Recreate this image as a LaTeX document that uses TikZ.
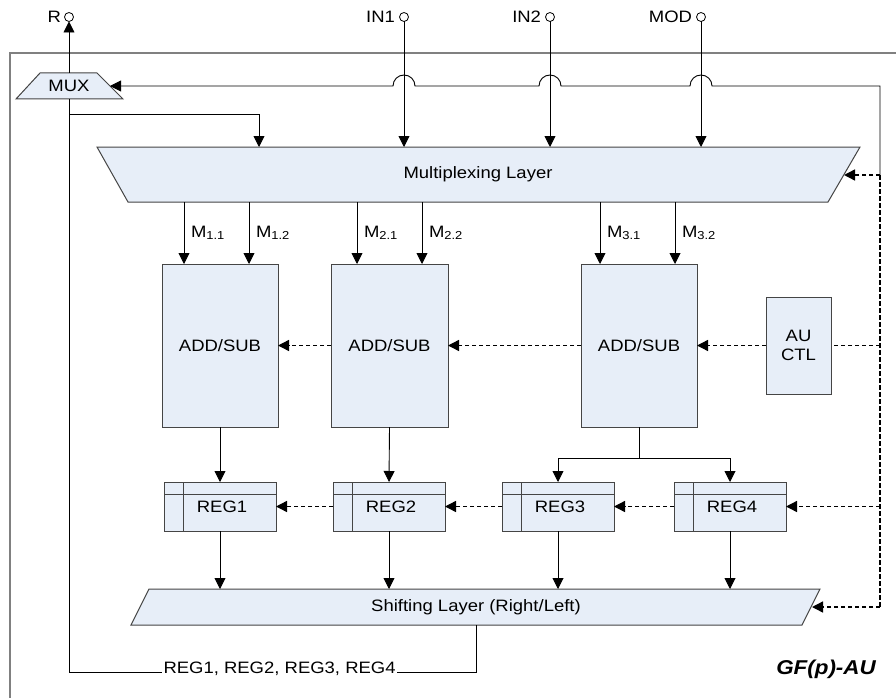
\documentclass[tikz,border=0pt]{standalone}
\usepackage{fontspec}
\setmainfont[FakeStretch=1.12]{Liberation Sans}
\usetikzlibrary{arrows.meta}
\definecolor{boxfill}{HTML}{E7EEF8}
\definecolor{boxline}{HTML}{454545}
\definecolor{framegray}{HTML}{808080}
\begin{document}
\begin{tikzpicture}[x=1pt,y=-1pt,
  font=\fontsize{16.5}{19}\selectfont,
  arr/.style={-{Triangle[length=11pt,width=11pt]}, line width=0.9pt, black},
  dsh/.style={dash pattern=on 4.5pt off 2.5pt, line width=1.4pt},
  blk/.style={draw=boxline, fill=boxfill, line width=1pt},
  hold/.style={rectangle, inner sep=0pt, outer sep=0pt},
  box/.style={rectangle, draw=boxline, fill=boxfill, line width=1pt, inner sep=0pt, outer sep=0pt, align=center},
  term/.style={circle, draw=black, line width=0.8pt, inner sep=0pt, minimum size=9pt, fill=white, outer sep=0pt},
  lbl/.style={inner sep=0pt, outer sep=0pt},
]
\useasboundingbox (0,0) rectangle (896,698);
\fill[white] (0,0) rectangle (896,698);

% outer frame
\draw[framegray, line width=1.4pt] (10,698) -- (10,53) -- (896,53);

% terminals
\node[term] (R) at (69,17) {};
\node[lbl, anchor=east] (Rt) at (61,17) {R};
\node[term] (IN1) at (404,17) {};
\node[lbl, anchor=east] (IN1t) at (395,17) {IN1};
\node[term] (IN2) at (550,17) {};
\node[lbl, anchor=east] (IN2t) at (541,17) {IN2};
\node[term] (MOD) at (701,17) {};
\node[lbl, anchor=east] (MODt) at (692,17) {MOD};

% MUX
\draw[blk] (40,73) -- (97,73) -- (123,99) -- (16,99) -- cycle;
\node[hold, minimum width=57pt, minimum height=26pt] (mux) at (69,86) {MUX};
\coordinate (muxin) at (110,86);

% Multiplexing layer
\draw[blk] (97,147) -- (860,147) -- (828,202) -- (128,202) -- cycle;
\node[hold, minimum width=700pt, minimum height=55pt] (mpx) at (478,174.5) {Multiplexing Layer};
\coordinate (mpxr) at (844,175);

% Shifting layer
\draw[blk] (149,589) -- (820,589) -- (802,625) -- (131,625) -- cycle;
\node[hold, minimum width=650pt, minimum height=36pt] (shf) at (476,607) {Shifting Layer (Right/Left)};
\coordinate (shfr) at (812,607);

% ADD/SUB blocks
\node[box, minimum width=116pt, minimum height=163pt] (as1) at (220,345.5) {ADD/SUB};
\node[box, minimum width=117pt, minimum height=163pt] (as2) at (389.5,345.5) {ADD/SUB};
\node[box, minimum width=116pt, minimum height=163pt] (as3) at (639,345.5) {ADD/SUB};
\node[box, minimum width=65pt, minimum height=97pt] (au) at (798.5,345.5) {AU\\CTL};

% registers
\foreach \n/\x in {1/220,2/389,3/558,4/730}{
  \node[box, minimum width=112pt, minimum height=49pt] (r\n) at (\x,506.5) {\hspace*{4pt}REG\n};
  \draw[boxline, line width=1pt] ([yshift=-12pt]r\n.north west) -- ([yshift=-12pt]r\n.north east);
  \draw[boxline, line width=1pt] ([xshift=19pt]r\n.north west) -- ([xshift=19pt]r\n.south west);
}

% right control bus coordinates
\coordinate (v0) at (880,86);
\coordinate (v1) at (880,175);
\coordinate (v2) at (880,345.5);
\coordinate (v3) at (880,506.5);
\coordinate (v4) at (880,607);

% R output
\draw[arr] (mux.north) -- (R.south);

% inputs
\draw[arr] (IN1.south) -- (IN1.south |- mpx.north);
\draw[arr] (IN2.south) -- (IN2.south |- mpx.north);
\draw[arr] (MOD.south) -- (MOD.south |- mpx.north);

% MUX select line with hops
\draw[arr] (v1) -- (v0) -- (712,86) arc (0:-180:11) -- (561,86) arc (0:-180:11) -- (415,86) arc (0:-180:11) -- (muxin);

% feedback from shifting layer
\coordinate (fb) at (69,114);
\coordinate (fbx) at (259,114);
\coordinate (bl) at (69,672.5);
\draw[line width=0.9pt, black] (mux.south) -- (bl) -- (shf.south |- bl) -- (shf.south);
\draw[arr] (fb) -- (fbx) -- (fbx |- mpx.north);
\node[lbl, anchor=base west, fill=white, inner sep=1.5pt] (bus) at (162,673.5) {REG1, REG2, REG3, REG4};

% M arrows
\foreach \nm/\xx/\ll in {a/184/1.1, b/249/1.2, c/357/2.1, d/422/2.2, e/600/3.1, f/675/3.2}{
  \coordinate (x\nm) at (\xx,0);
  \draw[arr] (x\nm |- mpx.south) -- (x\nm |- as1.north);
  \node[lbl, anchor=west] (l\nm) at (\xx+7,233) {M\textsubscript{\ll}};
}

% ADD/SUB to registers
\draw[arr] (as1.south) -- (r1.north);
\draw[arr] (as2.south) -- (r2.north);
\coordinate (fk) at (639,458);
\draw[line width=0.9pt] (as3.south) -- (fk);
\draw[arr] (fk) -| (r3.north);
\draw[arr] (fk) -| (r4.north);

% registers to shifting layer
\foreach \n in {1,2,3,4}{
  \draw[arr] (r\n.south) -- (r\n.south |- shf.north);
}

% dashed control
\draw[dsh] (v1) -- (v4);
\draw[arr, dsh] (v1) -- (mpxr);
\draw[dsh] (v2) -- (au.east);
\draw[arr, dsh] (au.west) -- (as3.east);
\draw[arr, dsh] (as3.west) -- (as2.east);
\draw[arr, dsh] (as2.west) -- (as1.east);
\draw[arr, dsh] (v3) -- (r4.east);
\draw[arr, dsh] (r4.west) -- (r3.east);
\draw[arr, dsh] (r3.west) -- (r2.east);
\draw[arr, dsh] (r2.west) -- (r1.east);
\draw[arr, dsh] (v4) -- (shfr);

% title
\node[lbl, font=\fontsize{20}{24}\selectfont\bfseries\itshape] (title) at (826,669) {GF(p)-AU};
\end{tikzpicture}
\end{document}
